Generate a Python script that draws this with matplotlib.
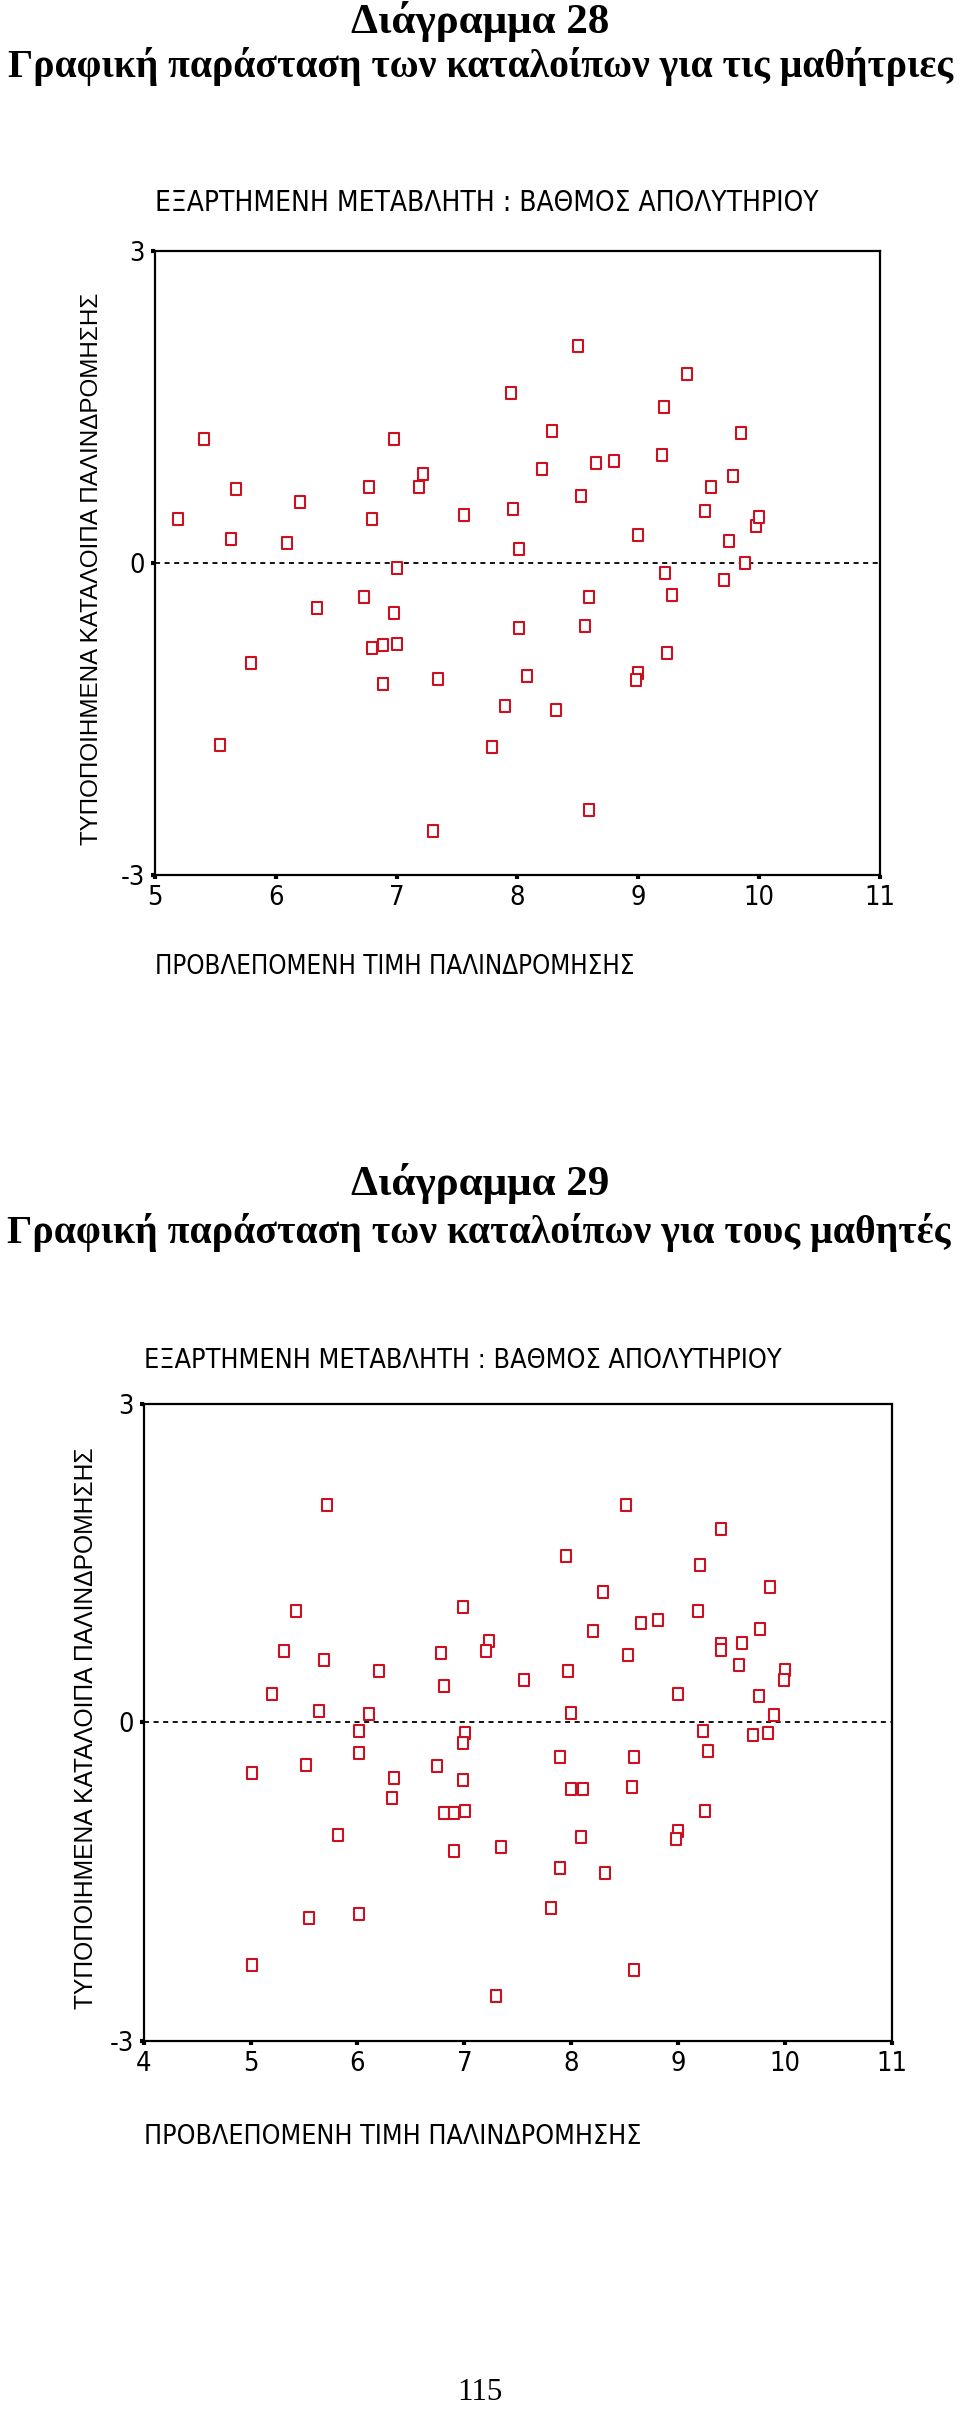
import matplotlib
matplotlib.use("Agg")
import os
import matplotlib.pyplot as plt
from matplotlib import font_manager as fm
from matplotlib.path import Path

# ---------------- data ----------------
girls_pred = [5.19, 5.41, 5.67, 5.63, 6.20, 6.09, 6.34, 6.77, 6.80, 6.98, 7.22, 7.19, 7.00, 6.73, 6.98,
              7.56, 7.95, 7.96, 8.01, 8.20, 8.29, 8.50, 8.53, 8.65, 8.80, 8.59, 8.56, 8.01, 9.00, 9.20,
              9.21, 9.40, 9.22, 9.28, 9.55, 9.60, 9.75, 9.78, 9.85, 9.71, 9.88, 9.97, 10.00, 6.80, 6.89,
              7.00, 5.80, 9.24, 9.00, 8.98, 6.89, 7.34, 8.08, 7.90, 8.32, 5.54, 7.79, 8.59, 7.30]
girls_resid = [0.42, 1.19, 0.71, 0.23, 0.58, 0.19, -0.44, 0.73, 0.42, 1.19, 0.85, 0.73, -0.05, -0.33, -0.48,
               0.46, 1.63, 0.52, 0.13, 0.90, 1.27, 2.08, 0.64, 0.96, 0.98, -0.33, -0.61, -0.63, 0.27, 1.04,
               1.50, 1.81, -0.10, -0.31, 0.50, 0.73, 0.21, 0.83, 1.25, -0.17, 0.00, 0.35, 0.44, -0.82, -0.79,
               -0.78, -0.96, -0.87, -1.06, -1.13, -1.17, -1.12, -1.09, -1.38, -1.42, -1.75, -1.77, -2.38, -2.58]

boys_pred = [5.71, 8.51, 9.40, 7.95, 9.21, 8.30, 9.86, 5.42, 6.99, 9.19, 8.65, 8.81, 8.20, 9.77, 7.23,
             7.20, 6.78, 5.31, 5.69, 9.40, 9.40, 9.60, 8.53, 9.57, 6.20, 7.97, 10.00, 9.99, 7.56, 6.81,
             5.20, 9.00, 9.76, 5.64, 6.11, 8.00, 9.90,
             6.01, 7.01, 6.99, 9.23, 9.70, 9.84, 9.28, 6.01, 5.52, 5.01, 7.90, 8.59, 6.74, 6.34,
             6.99, 6.32, 8.00, 8.11, 8.57, 6.81, 6.90, 7.01, 9.25, 5.82, 9.00, 8.98, 8.09, 7.34,
             6.90, 7.90, 8.32, 7.81, 5.55, 6.01, 5.01, 8.59, 7.30]
boys_resid = [2.05, 2.05, 1.82, 1.57, 1.48, 1.23, 1.28, 1.05, 1.09, 1.05, 0.94, 0.96, 0.86, 0.88, 0.77,
              0.67, 0.65, 0.67, 0.59, 0.74, 0.68, 0.75, 0.63, 0.54, 0.48, 0.48, 0.49, 0.40, 0.40, 0.34,
              0.27, 0.27, 0.25, 0.11, 0.08, 0.09, 0.07,
              -0.08, -0.10, -0.19, -0.08, -0.12, -0.10, -0.27, -0.29, -0.40, -0.48, -0.33, -0.33, -0.41, -0.52,
              -0.54, -0.71, -0.63, -0.63, -0.61, -0.85, -0.85, -0.84, -0.84, -1.06, -1.02, -1.10, -1.08, -1.17,
              -1.21, -1.37, -1.42, -1.75, -1.84, -1.81, -2.29, -2.33, -2.58]

y_ticks = [-3, 0, 3]
girls_xticks = [5, 6, 7, 8, 9, 10, 11]
boys_xticks = [4, 5, 6, 7, 8, 9, 10, 11]

title1 = "Διάγραμμα 28"
subtitle1 = "Γραφική παράσταση των καταλοίπων για τις μαθήτριες"
title2 = "Διάγραμμα 29"
subtitle2 = "Γραφική παράσταση των καταλοίπων για τους μαθητές"
dep_text = "ΕΞΑΡΤΗΜΕΝΗ ΜΕΤΑΒΛΗΤΗ : ΒΑΘΜΟΣ ΑΠΟΛΥΤΗΡΙΟΥ"
xlab = "ΠΡΟΒΛΕΠΟΜΕΝΗ ΤΙΜΗ ΠΑΛΙΝΔΡΟΜΗΣΗΣ"
ylab = "ΤΥΠΟΠΟΙΗΜΕΝΑ ΚΑΤΑΛΟΙΠΑ ΠΑΛΙΝΔΡΟΜΗΣΗΣ"
page_no = "115"

# ---------------- fonts ----------------
def find_narrow():
    prefs = ["LiberationSansNarrow-Regular", "LiberationSansNarrow", "DejaVuSansCondensed.",
             "RobotoCondensed-Regular", "OpenSansCondensed", "OpenSans_Condensed-Regular",
             "NotoSans-Condensed.", "NotoSans-CondensedRegular", "Roboto_Condensed-Regular"]
    files = [f.fname for f in fm.fontManager.ttflist]
    for p in prefs:
        for fn in files:
            if p.lower() in os.path.basename(fn).lower():
                return fm.FontProperties(fname=fn), True
    for fn in files:
        b = os.path.basename(fn).lower()
        if ("narrow" in b or "condensed" in b) and not any(k in b for k in ("bold", "italic", "oblique", "light", "thin", "black", "medium", "semi", "extra")):
            return fm.FontProperties(fname=fn), True
    return fm.FontProperties(family="Liberation Sans"), False

NARROW_FP, IS_NARROW = find_narrow()
SANS = "Liberation Sans"
SERIF = "Liberation Serif"

W, H = 960, 2413
DPI = 100
fig = plt.figure(figsize=(W / DPI, H / DPI), dpi=DPI)
fig.patch.set_facecolor("white")
renderer = fig.canvas.get_renderer()


def fx(px):
    return px / W


def fy(py):
    return 1 - py / H


def put(text, x, y, target_w=None, size=16, rotation=0, fp=None, **kw):
    t = fig.text(fx(x), fy(y), text, rotation=rotation, **kw)
    if fp is not None:
        t.set_fontproperties(fp.copy())
    t.set_fontsize(size)
    if target_w is not None:
        bb = t.get_window_extent(renderer)
        cur = bb.height if rotation == 90 else bb.width
        t.set_fontsize(size * target_w / cur)
    return t


# titles
put(title1, 480, 21, 257, 28, family=SERIF, weight="bold", ha="center", va="center")
put(subtitle1, 481, 66, 946, 28, family=SERIF, weight="bold", ha="center", va="center")
put(title2, 480, 1183, 257, 28, family=SERIF, weight="bold", ha="center", va="center")
put(subtitle2, 479, 1232, 941, 28, family=SERIF, weight="bold", ha="center", va="center")
put(page_no, 480, 2393, 45, 22, family=SERIF, ha="center", va="center")

RED = "#cc1020"
rect = Path([(-0.8, -1), (0.8, -1), (0.8, 1), (-0.8, 1), (-0.8, -1)],
            [Path.MOVETO, Path.LINETO, Path.LINETO, Path.LINETO, Path.CLOSEPOLY])

TICK_SIZE = 19.5 if IS_NARROW else 17.0


def make_panel(left, right, top, bottom, xticks, xs, ys, sub_y, sub_w, xl_y, xl_w, yl_x, yl_w):
    ax = fig.add_axes([fx(left), fy(bottom), fx(right - left), (bottom - top) / H])
    ax.set_xlim(xticks[0], xticks[-1])
    ax.set_ylim(-3, 3)
    ax.axhline(0, color="black", lw=1.3, dashes=(2.8, 2.5), zorder=1)
    ax.plot(xs, ys, linestyle="none", marker=rect, markersize=8.5, markerfacecolor="white",
            markeredgecolor=RED, markeredgewidth=1.5, zorder=3, clip_on=False)
    ax.set_xticks(xticks)
    ax.set_yticks(y_ticks)
    ax.set_xticklabels([str(v) for v in xticks])
    ax.set_yticklabels([str(v) for v in y_ticks])
    for s in ax.spines.values():
        s.set_linewidth(1.6)
        s.set_color("black")
    ax.tick_params(axis="both", direction="out", length=3.2, width=3.0, color="black")
    ax.tick_params(axis="x", pad=4)
    ax.tick_params(axis="y", pad=4)
    for lab in ax.get_xticklabels() + ax.get_yticklabels():
        lab.set_fontproperties(NARROW_FP.copy())
        lab.set_fontsize(TICK_SIZE)
    put(dep_text, left, sub_y, sub_w, 16.5, fp=NARROW_FP, ha="left", va="center")
    put(xlab, left, xl_y, xl_w, 16.5, fp=NARROW_FP, ha="left", va="center")
    put(ylab, yl_x, (top + bottom) / 2 + 6, yl_w, 16.5, rotation=90, family=SANS,
        ha="center", va="center")
    return ax


make_panel(154.8, 880.0, 250.7, 874.7, girls_xticks, girls_pred, girls_resid,
           203, 660, 967, 480, 92, 551)
make_panel(143.8, 891.7, 1404.0, 2040.7, boys_xticks, boys_pred, boys_resid,
           1361, 636, 2137, 493, 86, 561)

fig.savefig("out.png", dpi=DPI, facecolor="white")
